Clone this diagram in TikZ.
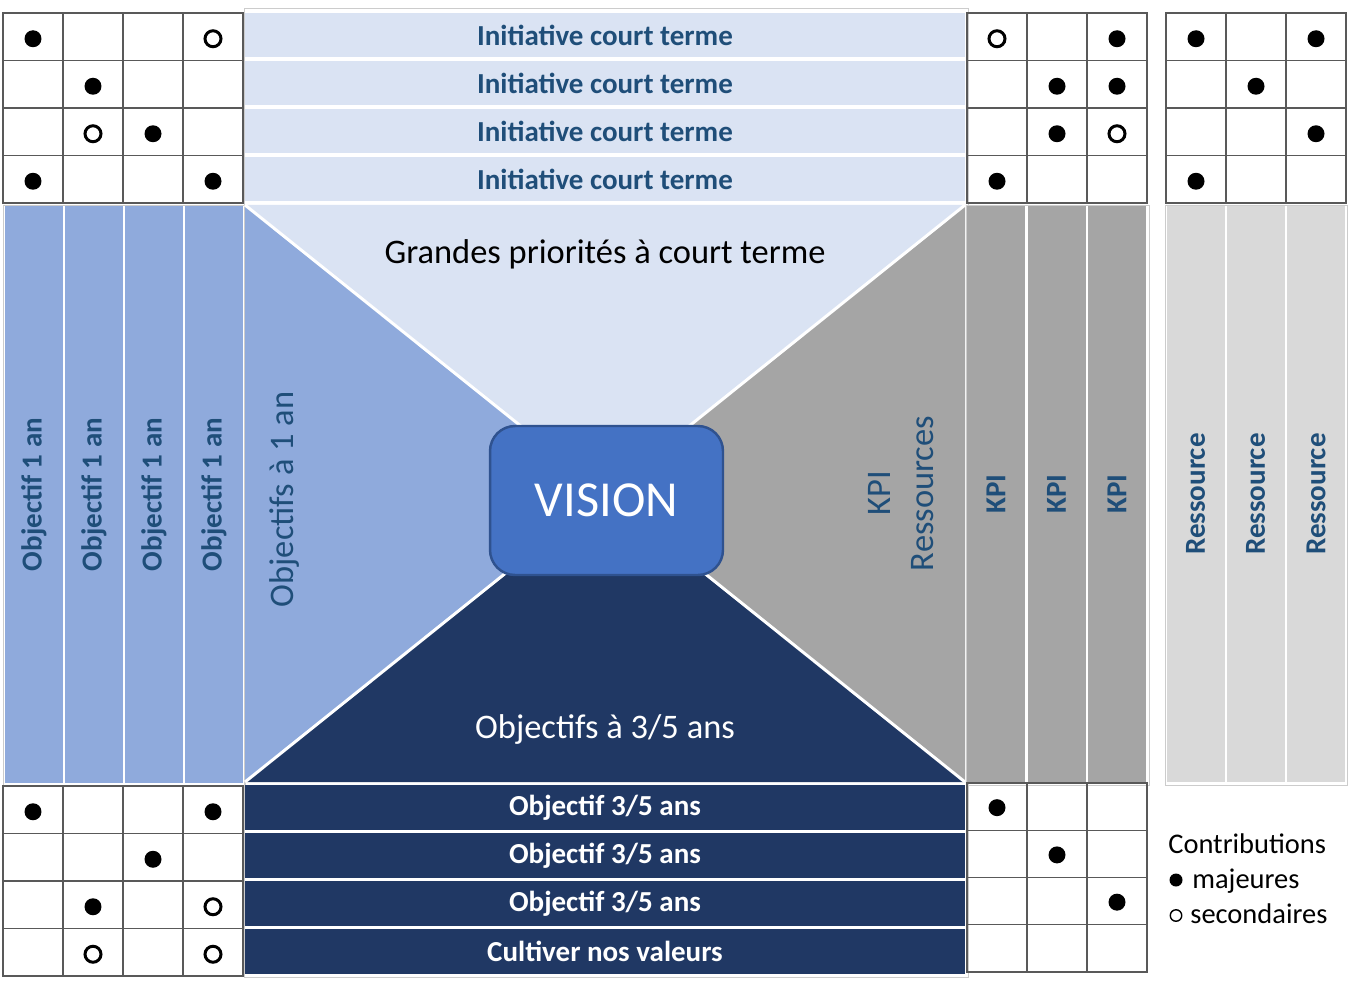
\documentclass[tikz,border=0pt]{standalone}
\usepackage{fontspec}
\setmainfont{Carlito}
\usetikzlibrary{calc}

\definecolor{txtblue}{HTML}{1F4E79}
\definecolor{paleblue}{HTML}{DAE3F3}
\definecolor{midblue}{HTML}{8FAADC}
\definecolor{visblue}{HTML}{4472C4}
\definecolor{visedge}{HTML}{2F528F}
\definecolor{navy}{HTML}{203864}
\definecolor{kpigray}{HTML}{A5A5A5}
\definecolor{resgray}{HTML}{D9D9D9}

% grid of contributions: x0, y0, columns, row height
\newcommand{\cgrid}[4]{%
  \foreach \i in {1,...,#3} \foreach \j in {1,...,4}
    \draw[cell] ({#1+60*(\i-1)},{#2+#4*(\j-1)}) rectangle ++(60,#4);}

\begin{document}
\begin{tikzpicture}[x=0.02cm,y=-0.02cm,
  cell/.style={draw=black!65,line width=0.7pt},
  frame/.style={draw=black!20,line width=0.5pt},
  full/.style={fill=black},
  open/.style={draw=black,line width=1.7pt,fill=white},
  topbar/.style={fill=paleblue,text=txtblue,minimum width=14.4cm,minimum height=0.9cm,
    inner sep=0pt,font=\fontsize{16.5}{19}\selectfont\bfseries},
  botbar/.style={topbar,fill=navy,text=white},
  objcol/.style={rotate=90,fill=midblue,text=txtblue,minimum width=11.54cm,minimum height=1.16cm,
    inner sep=0pt,font=\fontsize{16.5}{19}\selectfont\bfseries},
  kpicol/.style={objcol,fill=kpigray},
  rescol/.style={objcol,fill=resgray},
  big/.style={font=\fontsize{19.6}{24}\selectfont},
  legend/.style={anchor=base west,inner sep=0pt,font=\fontsize{16.2}{19}\selectfont},
  vision/.style={rounded corners=0.5cm,fill=visblue,draw=visedge,line width=1.4pt,
    minimum width=4.66cm,minimum height=2.98cm,text=white,font=\fontsize{28.7}{34}\selectfont}]

\fill[white] (0,0) rectangle (1358,1000);
\useasboundingbox (0,0) rectangle (1358,1000);

% outlines of the blocks
\draw[frame] (244,8) rectangle (968,977);
\draw[frame] (3,205) rectangle (245,785);
\draw[frame] (966,205) rectangle (1149,785);
\draw[frame] (1165,205) rectangle (1347,785);

% short term initiatives and 3/5 years objectives
\foreach \k in {1,...,4}
  \node[topbar] (ini\k) at (605,{35+48*(\k-1)}) {Initiative court terme};
\node[botbar] (obj1) at (605,807.5) {\raisebox{-2.5pt}{Objectif 3/5 ans}};
\node[botbar] (obj2) at (605,855.5) {\raisebox{-2.5pt}{Objectif 3/5 ans}};
\node[botbar] (obj3) at (605,903.5) {\raisebox{-2.5pt}{Objectif 3/5 ans}};
\node[botbar] (val) at (605,951.5) {Cultiver nos valeurs};

% columns
\foreach \k/\x in {1/34,2/94,3/154,4/214}
  \node[objcol] (an\k) at (\x,494.5) {Objectif 1 an};
\foreach \k/\x in {1/996,2/1056.5,3/1117}
  \node[kpicol] (kpi\k) at (\x,494) {KPI};
\foreach \k/\x in {1/1195.5,2/1255.5,3/1316}
  \node[rescol] (res\k) at (\x,494) {Ressource};

% the four triangles
\coordinate (c) at (605,494);
\coordinate (nw) at (245,205);
\coordinate (ne) at (965,205);
\coordinate (se) at (965,782);
\coordinate (sw) at (245,782);
\fill[paleblue] (nw) -- (ne) -- (c) -- cycle;
\fill[midblue] (nw) -- (c) -- (sw) -- cycle;
\fill[kpigray] (ne) -- (se) -- (c) -- cycle;
\fill[navy] (sw) -- (se) -- (c) -- cycle;
\draw[white,line width=1.7pt] (nw) -- (se) (ne) -- (sw);

\node[big,anchor=base] (prio) at (605,263) {Grandes priorités à court terme};
\node[big,anchor=base,text=white] (ans) at (605,738) {Objectifs à 3/5 ans};
\node[big,anchor=base,rotate=90,text=txtblue] (unan) at (293,499.5) {Objectifs à 1 an};
\node[big,rotate=90,text=txtblue,align=center] (kpires) at (901,493.5) {KPI\\Ressources};

\node[vision] (vis) at (606.5,500.5) {VISION};

% contribution grids
\cgrid{3}{13}{4}{47.5}
\cgrid{967}{13}{3}{47.5}
\cgrid{1166}{13}{3}{47.5}
\cgrid{3}{786}{4}{47.5}
\cgrid{967}{783}{3}{47.25}

\foreach \c/\r in {1/1,2/2,3/3,1/4,4/4}
  \fill[full] ({3+60*\c-30},{15+47.5*\r-23.75}) circle (0.17cm);
\foreach \c/\r in {4/1,2/3}
  \draw[open] ({3+60*\c-30},{15+47.5*\r-23.75}) circle (0.16cm);
\foreach \c/\r in {3/1,2/2,3/2,2/3,1/4}
  \fill[full] ({967+60*\c-30},{15+47.5*\r-23.75}) circle (0.17cm);
\foreach \c/\r in {1/1,3/3}
  \draw[open] ({967+60*\c-30},{15+47.5*\r-23.75}) circle (0.16cm);
\foreach \c/\r in {1/1,3/1,2/2,3/3,1/4}
  \fill[full] ({1166+60*\c-30},{15+47.5*\r-23.75}) circle (0.17cm);
\foreach \c/\r in {1/1,4/1,3/2,2/3}
  \fill[full] ({3+60*\c-30},{788+47.5*\r-23.75}) circle (0.17cm);
\foreach \c/\r in {4/3,2/4,4/4}
  \draw[open] ({3+60*\c-30},{788+47.5*\r-23.75}) circle (0.16cm);
\foreach \c/\r in {1/1,2/2,3/3}
  \fill[full] ({967+60*\c-30},{784+47.25*\r-23.6}) circle (0.17cm);

% legend
\node[legend] (contrib) at (1168,853) {Contributions};
\node[legend] (maj) at (1192,888) {majeures};
\node[legend] (sec) at (1190,923) {secondaires};
\fill[full] (1176,880) circle (0.13cm);
\draw[black,line width=0.8pt] (1176,915.5) circle (0.115cm);

\end{tikzpicture}
\end{document}
